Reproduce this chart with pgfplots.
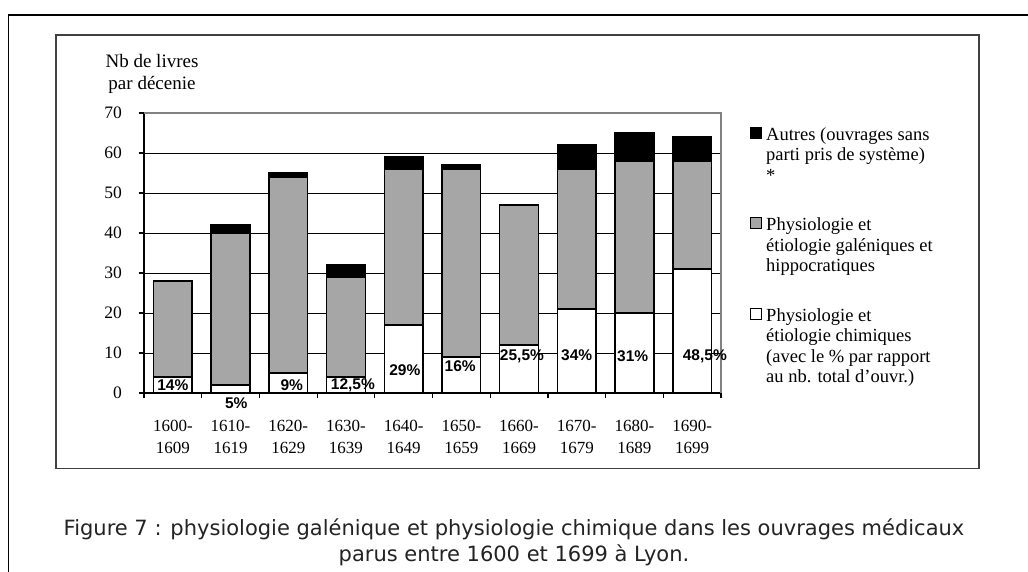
\documentclass[border=0pt]{standalone}
\usepackage{pgfplots}
\usepackage{pgfplotstable}
\pgfplotsset{compat=1.18}
\usepackage{fontspec}
\setmainfont{Liberation Serif}
\newfontfamily\arialf{Liberation Sans}
\newfontfamily\verdf{DejaVu Sans}
\definecolor{barGray}{RGB}{166,166,166}
\definecolor{capGray}{RGB}{35,35,35}
\pgfplotstableread{
x white gray black
0 4 24 0
1 2 38 2
2 5 49 1
3 4 25 3
4 17 39 3
5 9 47 1
6 12 35 0
7 21 35 6
8 20 38 7
9 31 27 6
}\datatable
\newcommand{\pct}{\arialf\bfseries\fontsize{15.5bp}{18bp}\selectfont}
\begin{document}
\begin{tikzpicture}
\path[use as bounding box] (0,0) rectangle (1028bp,572bp);
\fill[white] (0,0) rectangle (1028bp,572bp);
\draw[black, line width=1.4bp] (8.3bp,-2bp) -- (8.3bp,557bp) -- (1030bp,557bp);
\draw[black!75, line width=1.6bp] (56bp,103.3bp) rectangle (979bp,537bp);
\node[align=center, anchor=north, inner sep=0pt, font=\fontsize{19bp}{22bp}\selectfont] at (152bp,517.5bp) {Nb de livres\\par décenie};
\node[font=\verdf\fontsize{21bp}{26bp}\selectfont, text=capGray, align=center] at (514bp,29.5bp) {Figure 7 : physiologie galénique et physiologie chimique dans les ouvrages médicaux\\parus entre 1600 et 1699 à Lyon.};
\begin{axis}[
  at={(144bp,179bp)}, anchor=south west,
  scale only axis, width=577bp, height=280bp,
  xmin=-0.5, xmax=9.5, ymin=0, ymax=70,
  ybar stacked, bar width=38.7bp,
  clip=false,
  axis x line*=bottom, axis y line*=left,
  axis line style={black, line width=1.2bp},
  xtick={-0.5,0.5,...,9.5},
  x tick label as interval,
  xticklabels={{1600-\\1609},{1610-\\1619},{1620-\\1629},{1630-\\1639},{1640-\\1649},{1650-\\1659},{1660-\\1669},{1670-\\1679},{1680-\\1689},{1690-\\1699}},
  xticklabel style={font=\fontsize{17bp}{22bp}\selectfont, align=center, yshift=-18bp},
  ytick={0,10,...,70},
  yticklabel style={font=\fontsize{17.5bp}{20bp}\selectfont, xshift=-13bp},
  /pgf/number format/assume math mode=true,
  ymajorgrids, grid style={black, line width=0.8bp},
  tick align=outside, major tick length=5.5bp,
  tick style={black, line width=1.2bp},
  reverse legend,
  legend image code/.code={\draw[#1, line width=1bp] (0bp,-13bp) rectangle (11bp,-2bp);},
  legend style={draw=none, fill=none, at={(axis description cs:1.0503,0.957)}, anchor=north west, inner sep=0pt, row sep=31bp, column sep=2bp, font=\fontsize{18.5bp}{20.5bp}\selectfont, cells={align=left, anchor=north west, inner sep=1bp}},
]
\addplot[fill=white, draw=black, line width=1.5bp] table[x=x, y=white] {\datatable};
\addlegendentry{Physiologie et\\étiologie chimiques\\(avec le \% par rapport\\au nb. total d'ouvr.)}
\addplot[fill=barGray, draw=black, line width=1.5bp] table[x=x, y=gray] {\datatable};
\addlegendentry{Physiologie et\\étiologie galéniques et\\hippocratiques}
\addplot[fill=black, draw=black, line width=1.5bp] table[x=x, y=black] {\datatable};
\addlegendentry{Autres (ouvrages sans\\parti pris de système)\\*}
\coordinate (TL) at (rel axis cs:0,1);
\coordinate (TR) at (rel axis cs:1,1);
\coordinate (BR) at (rel axis cs:1,0);
\coordinate (l0) at (axis cs:0,2);
\coordinate (l1) at (axis cs:1.1,-2.5);
\coordinate (l2) at (axis cs:2.06,2);
\coordinate (l3) at (axis cs:3.12,2);
\coordinate (l4) at (axis cs:4.02,5.75);
\coordinate (l5) at (axis cs:4.98,6.6);
\coordinate (l6) at (axis cs:6.05,9.1);
\coordinate (l7) at (axis cs:7.0,9.5);
\coordinate (l8) at (axis cs:7.97,9.1);
\coordinate (l9) at (axis cs:9.22,9.1);
\end{axis}
\draw[black!50, line width=1.3bp] (TL) -- (TR) -- (BR);
\node[font=\pct] at (l0) {14\%};
\node[font=\pct] at (l1) {5\%};
\node[font=\pct] at (l2) {9\%};
\node[font=\pct] at (l3) {12,5\%};
\node[font=\pct] at (l4) {29\%};
\node[font=\pct] at (l5) {16\%};
\node[font=\pct] at (l6) {25,5\%};
\node[font=\pct] at (l7) {34\%};
\node[font=\pct] at (l8) {31\%};
\node[font=\pct] at (l9) {48,5\%};
\end{tikzpicture}
\end{document}
